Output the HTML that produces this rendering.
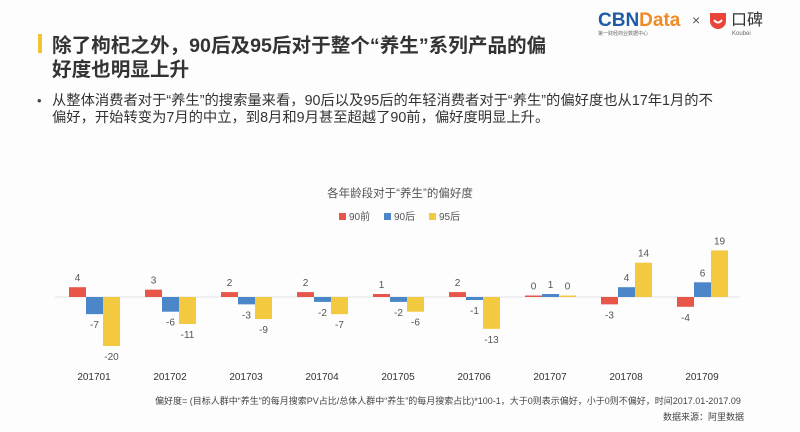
<!DOCTYPE html><html><head><meta charset="utf-8"><style>
body{margin:0;width:800px;height:432px;background:#fdfdfd;overflow:hidden;font-family:"Liberation Sans","Noto Sans CJK SC",sans-serif;}
</style></head><body>
<svg width="800" height="432" xmlns="http://www.w3.org/2000/svg" style="position:absolute;left:0;top:0">
<rect x="38" y="34" width="4" height="19" fill="#f2c530"/>
<text x="52" y="52" font-size="19.6" font-weight="bold" fill="#333" font-family="Liberation Sans,Noto Sans CJK SC,sans-serif">除了枸杞之外，90后及95后对于整个“养生”系列产品的偏</text>
<text x="52" y="76" font-size="19.6" font-weight="bold" fill="#333" font-family="Liberation Sans,Noto Sans CJK SC,sans-serif">好度也明显上升</text>
<text x="37" y="105" font-size="13" fill="#444" font-family="Liberation Sans,Noto Sans CJK SC,sans-serif">•</text>
<text x="52" y="105" font-size="14.3" fill="#333" font-family="Liberation Sans,Noto Sans CJK SC,sans-serif">从整体消费者对于“养生”的搜索量来看，90后以及95后的年轻消费者对于“养生”的偏好度也从17年1月的不</text>
<text x="52" y="122" font-size="14.3" fill="#333" font-family="Liberation Sans,Noto Sans CJK SC,sans-serif">偏好，开始转变为7月的中立，到8月和9月甚至超越了90前，偏好度明显上升。</text>
<text x="598" y="26" font-size="19" font-weight="bold" fill="#1e5aa8" font-family="Liberation Sans,sans-serif">CBN<tspan fill="#f08a24">Data</tspan></text>
<text x="598" y="35" font-size="5" fill="#666" font-family="Noto Sans CJK SC,sans-serif">第一财经商业数据中心</text>
<text x="692" y="25" font-size="14" fill="#555">×</text>
<path d="M710 13 h16 v8 a8 8 0 0 1 -16 0z" fill="#e8443a"/>
<path d="M714 20 q4 5 8 0" stroke="#fff" stroke-width="2" fill="none"/>
<text x="731" y="25" font-size="16" fill="#333" font-family="Noto Sans CJK SC,sans-serif">口碑</text>
<text x="732" y="35" font-size="6" fill="#666">Koubei</text>
<text x="400" y="197" font-size="11.5" fill="#555" text-anchor="middle" font-family="Liberation Sans,Noto Sans CJK SC,sans-serif">各年龄段对于“养生”的偏好度</text>
<rect x="339" y="213" width="7" height="7" fill="#e8564a"/><text x="349" y="220" font-size="10" fill="#555" font-family="Liberation Sans,Noto Sans CJK SC,sans-serif">90前</text>
<rect x="384" y="213" width="7" height="7" fill="#4a86c8"/><text x="394" y="220" font-size="10" fill="#555" font-family="Liberation Sans,Noto Sans CJK SC,sans-serif">90后</text>
<rect x="429" y="213" width="7" height="7" fill="#f3c940"/><text x="439" y="220" font-size="10" fill="#555" font-family="Liberation Sans,Noto Sans CJK SC,sans-serif">95后</text>
<line x1="55" y1="297" x2="740" y2="297" stroke="#e4e4e4" stroke-width="1"/>
<g id="bars" font-size="10" fill="#555" text-anchor="middle"></g>
<text x="155" y="404" font-size="9" fill="#444" font-family="Liberation Sans,Noto Sans CJK SC,sans-serif">偏好度= (目标人群中“养生”的每月搜索PV占比/总体人群中“养生”的每月搜索占比)*100-1，大于0则表示偏好，小于0则不偏好，时间2017.01-2017.09</text>
<text x="744" y="420" font-size="9" fill="#444" text-anchor="end" font-family="Liberation Sans,Noto Sans CJK SC,sans-serif">数据来源：阿里数据</text>
</svg>
<script>
var d=[[4,-7,-20],[3,-6,-11],[2,-3,-9],[2,-2,-7],[1,-2,-6],[2,-1,-13],[0,1,0],[-3,4,14],[-4,6,19]];
var c=["#e8564a","#4a86c8","#f3c940"],s=2.45,z=297,g=document.getElementById("bars"),h="";
d.forEach(function(r,i){var cx=94+76*i;
r.forEach(function(v,j){var x=cx-25+17*j,hh=Math.max(Math.abs(v)*s,v==0?1.5:3),y=v>=0?z-hh:z;
h+='<rect x="'+x+'" y="'+y+'" width="17" height="'+hh+'" fill="'+c[j]+'"/>';
var ty=v>=0?y-6:y+hh+14;h+='<text x="'+(x+8.5)+'" y="'+ty+'">'+v+'</text>';});
h+='<text x="'+cx+'" y="380" fill="#333">2017'+('0'+(i+1))+'</text>';});
g.innerHTML=h;
</script>
</body></html>
